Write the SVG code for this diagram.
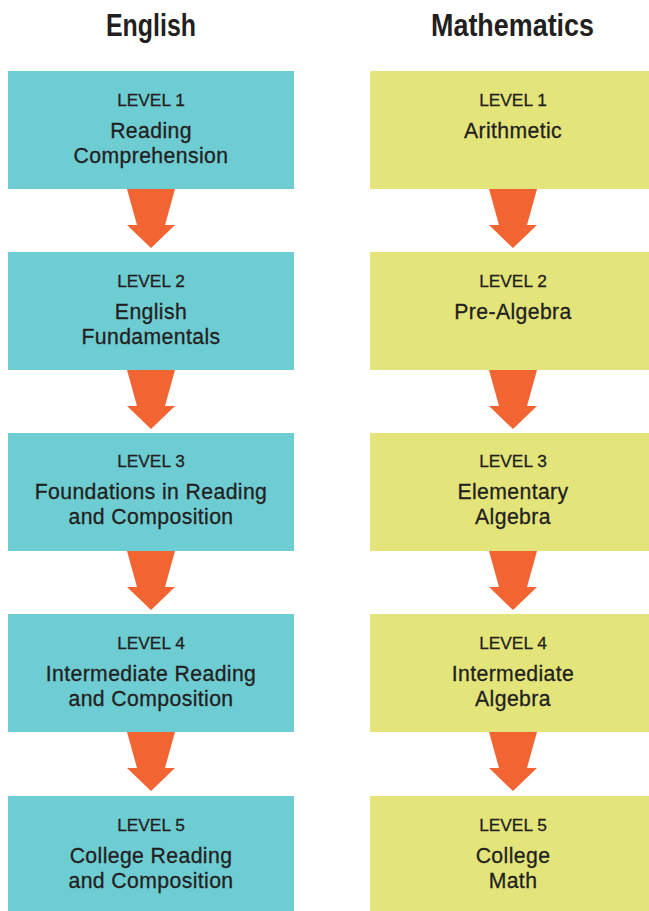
<svg xmlns="http://www.w3.org/2000/svg" width="649" height="911" viewBox="0 0 649 911">
<defs>
<style>
.en{fill:#6ECCD3}
.ma{fill:#E3E57A}
.ar{fill:#F26532}
text{font-family:"Liberation Sans",Arial,sans-serif;fill:#231F20;text-anchor:middle}
.t{font-weight:bold;font-size:32px}
.lv{font-size:17.3px;stroke:#231F20;stroke-width:0.3px}
.nm{font-size:21.2px;letter-spacing:0.4px;stroke:#231F20;stroke-width:0.3px}
</style>
<polygon id="arr" points="-24,0 24,0 14,36 24,36 0,59 -24,36 -14,36"/>
</defs>
<rect width="649" height="911" fill="#fff"/>
<text class="t" x="151" y="36" textLength="90" lengthAdjust="spacingAndGlyphs">English</text>
<text class="t" x="512.5" y="36" textLength="163" lengthAdjust="spacingAndGlyphs">Mathematics</text>

<g id="connectors" class="ar">
<use href="#arr" x="151" y="189"/>
<use href="#arr" x="151" y="370"/>
<use href="#arr" x="151" y="551"/>
<use href="#arr" x="151" y="732"/>
<use href="#arr" x="513" y="189"/>
<use href="#arr" x="513" y="370"/>
<use href="#arr" x="513" y="551"/>
<use href="#arr" x="513" y="732"/>
</g>

<g id="en1"><rect class="en" x="8" y="71" width="286" height="118"/>
<text class="lv" x="151" y="106">LEVEL 1</text>
<text class="nm" x="151" y="138">Reading</text>
<text class="nm" x="151" y="163">Comprehension</text></g>
<g id="en2"><rect class="en" x="8" y="252" width="286" height="118"/>
<text class="lv" x="151" y="287">LEVEL 2</text>
<text class="nm" x="151" y="319">English</text>
<text class="nm" x="151" y="344">Fundamentals</text></g>
<g id="en3"><rect class="en" x="8" y="433" width="286" height="118"/>
<text class="lv" x="151" y="467">LEVEL 3</text>
<text class="nm" x="151" y="499">Foundations in Reading</text>
<text class="nm" x="151" y="524">and Composition</text></g>
<g id="en4"><rect class="en" x="8" y="614" width="286" height="118"/>
<text class="lv" x="151" y="649">LEVEL 4</text>
<text class="nm" x="151" y="681">Intermediate Reading</text>
<text class="nm" x="151" y="706">and Composition</text></g>
<g id="en5"><rect class="en" x="8" y="796" width="286" height="118"/>
<text class="lv" x="151" y="831">LEVEL 5</text>
<text class="nm" x="151" y="863">College Reading</text>
<text class="nm" x="151" y="888">and Composition</text></g>

<g id="ma1"><rect class="ma" x="370" y="71" width="286" height="118"/>
<text class="lv" x="513" y="106">LEVEL 1</text>
<text class="nm" x="513" y="138">Arithmetic</text></g>
<g id="ma2"><rect class="ma" x="370" y="252" width="286" height="118"/>
<text class="lv" x="513" y="287">LEVEL 2</text>
<text class="nm" x="513" y="319">Pre-Algebra</text></g>
<g id="ma3"><rect class="ma" x="370" y="433" width="286" height="118"/>
<text class="lv" x="513" y="467">LEVEL 3</text>
<text class="nm" x="513" y="499">Elementary</text>
<text class="nm" x="513" y="524">Algebra</text></g>
<g id="ma4"><rect class="ma" x="370" y="614" width="286" height="118"/>
<text class="lv" x="513" y="649">LEVEL 4</text>
<text class="nm" x="513" y="681">Intermediate</text>
<text class="nm" x="513" y="706">Algebra</text></g>
<g id="ma5"><rect class="ma" x="370" y="796" width="286" height="118"/>
<text class="lv" x="513" y="831">LEVEL 5</text>
<text class="nm" x="513" y="863">College</text>
<text class="nm" x="513" y="888">Math</text></g>
</svg>
